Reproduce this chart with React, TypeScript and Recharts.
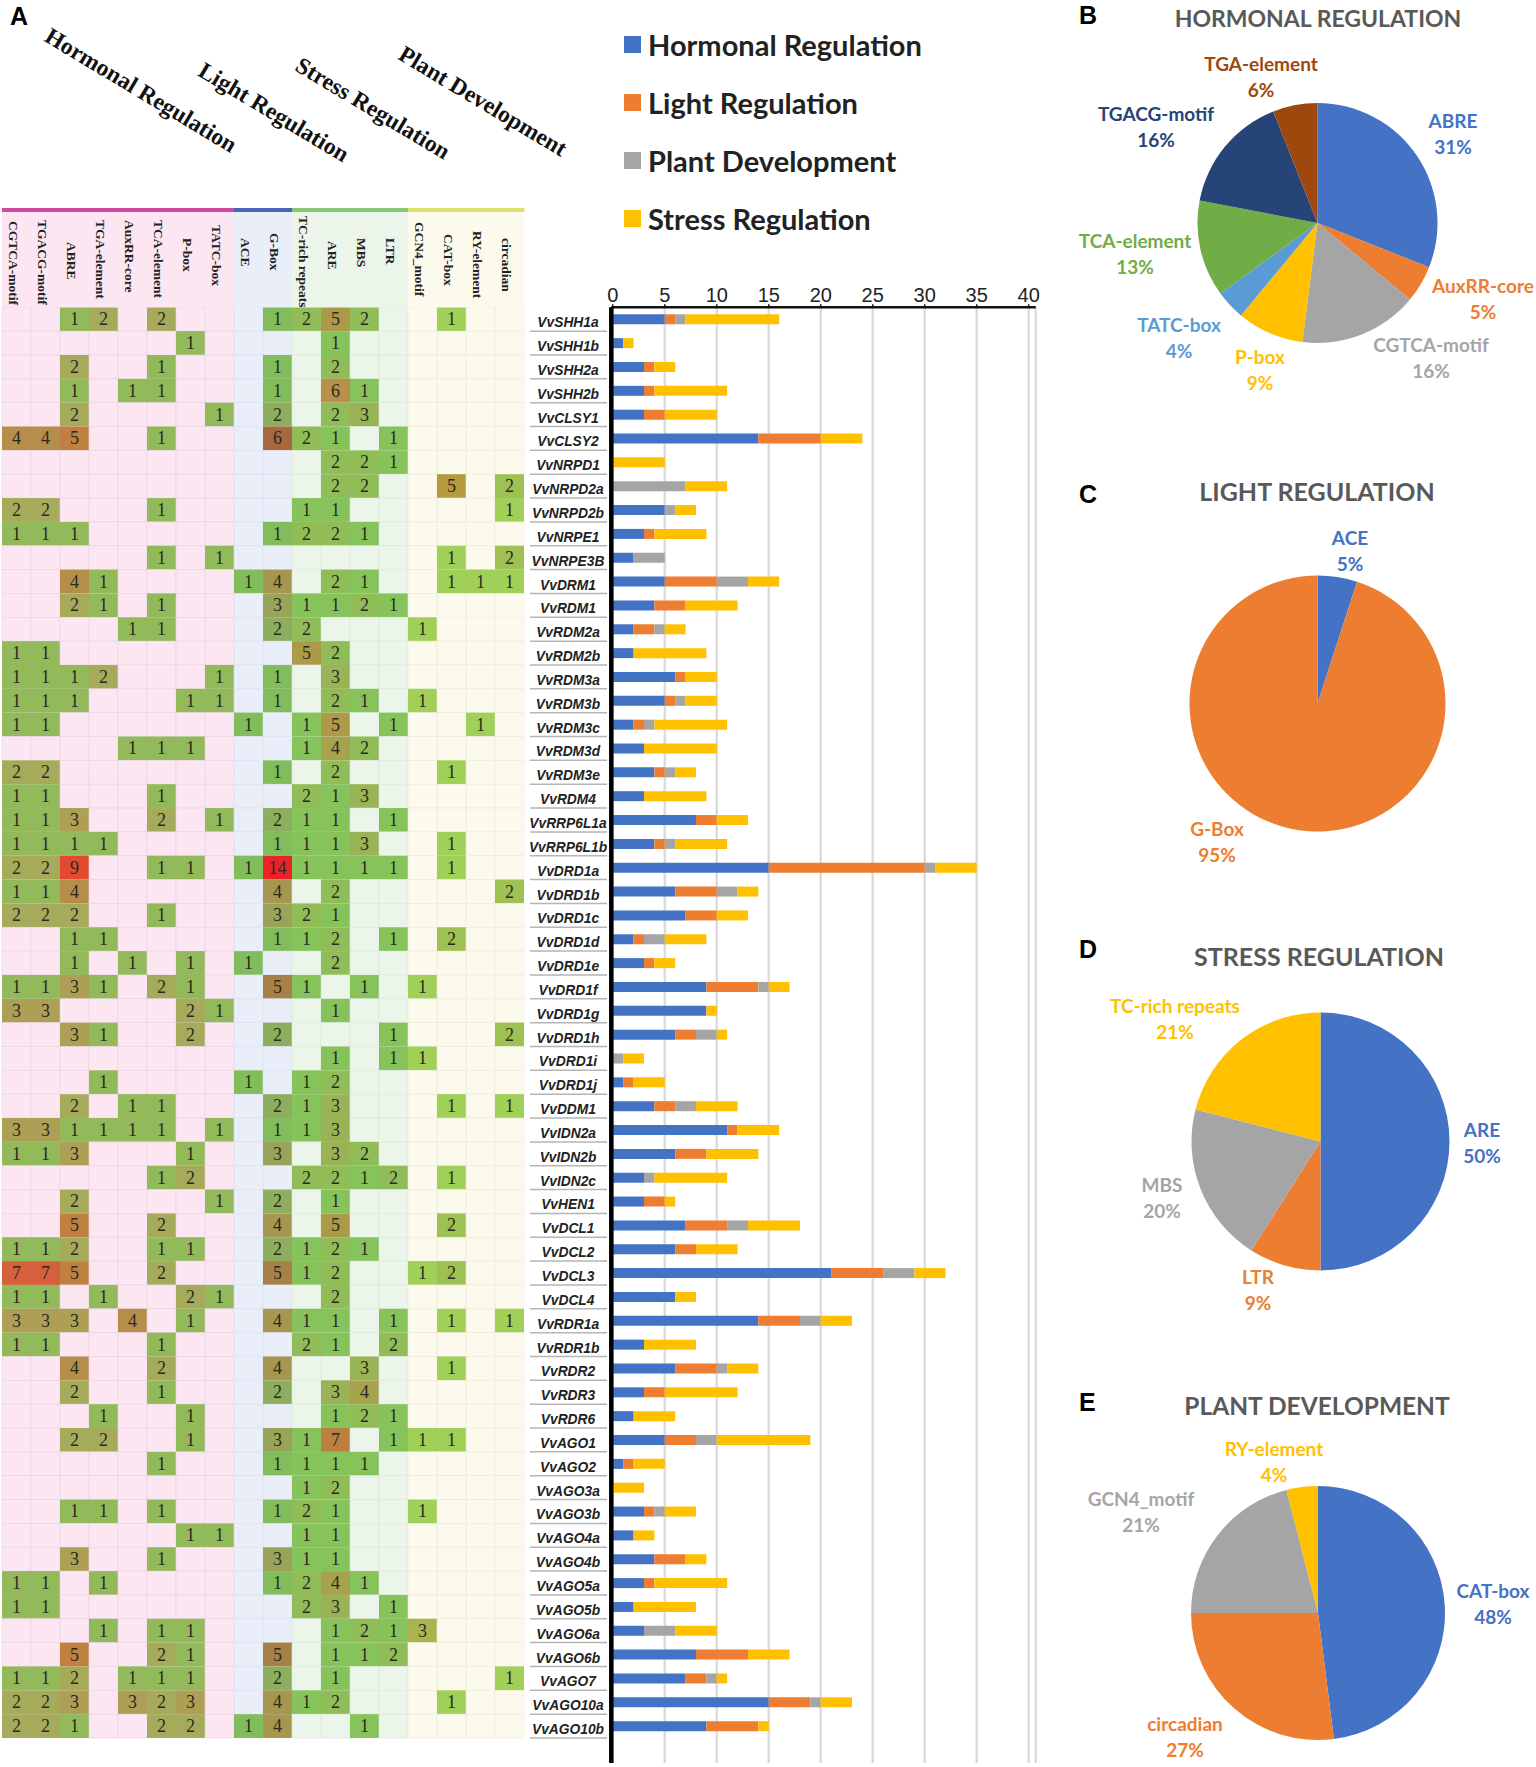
import {
  Bar,
  BarChart,
  CartesianGrid,
  Cell,
  Legend,
  Pie,
  PieChart,
  Scatter,
  ScatterChart,
  XAxis,
  YAxis,
} from 'recharts';

const genes = [
  'VvSHH1a', 'VvSHH1b', 'VvSHH2a', 'VvSHH2b', 'VvCLSY1', 'VvCLSY2', 'VvNRPD1', 'VvNRPD2a', 'VvNRPD2b', 'VvNRPE1',
  'VvNRPE3B', 'VvDRM1', 'VvRDM1', 'VvRDM2a', 'VvRDM2b', 'VvRDM3a', 'VvRDM3b', 'VvRDM3c', 'VvRDM3d', 'VvRDM3e',
  'VvRDM4', 'VvRRP6L1a', 'VvRRP6L1b', 'VvDRD1a', 'VvDRD1b', 'VvDRD1c', 'VvDRD1d', 'VvDRD1e', 'VvDRD1f', 'VvDRD1g',
  'VvDRD1h', 'VvDRD1i', 'VvDRD1j', 'VvDDM1', 'VvIDN2a', 'VvIDN2b', 'VvIDN2c', 'VvHEN1', 'VvDCL1', 'VvDCL2',
  'VvDCL3', 'VvDCL4', 'VvRDR1a', 'VvRDR1b', 'VvRDR2', 'VvRDR3', 'VvRDR6', 'VvAGO1', 'VvAGO2', 'VvAGO3a',
  'VvAGO3b', 'VvAGO4a', 'VvAGO4b', 'VvAGO5a', 'VvAGO5b', 'VvAGO6a', 'VvAGO6b', 'VvAGO7', 'VvAGO10a', 'VvAGO10b',
];

const motifs = [
  'CGTCA-motif', 'TGACG-motif', 'ABRE', 'TGA-element', 'AuxRR-core', 'TCA-element', 'P-box', 'TATC-box',
  'ACE', 'G-Box',
  'TC-rich repeats', 'ARE', 'MBS', 'LTR',
  'GCN4_motif', 'CAT-box', 'RY-element', 'circadian',
];

// one row per gene, one column per motif, 0 = no element
const motifCounts = [
  [0, 0, 1, 2, 0, 2, 0, 0, 0, 1, 2, 5, 2, 0, 0, 1, 0, 0],
  [0, 0, 0, 0, 0, 0, 1, 0, 0, 0, 0, 1, 0, 0, 0, 0, 0, 0],
  [0, 0, 2, 0, 0, 1, 0, 0, 0, 1, 0, 2, 0, 0, 0, 0, 0, 0],
  [0, 0, 1, 0, 1, 1, 0, 0, 0, 1, 0, 6, 1, 0, 0, 0, 0, 0],
  [0, 0, 2, 0, 0, 0, 0, 1, 0, 2, 0, 2, 3, 0, 0, 0, 0, 0],
  [4, 4, 5, 0, 0, 1, 0, 0, 0, 6, 2, 1, 0, 1, 0, 0, 0, 0],
  [0, 0, 0, 0, 0, 0, 0, 0, 0, 0, 0, 2, 2, 1, 0, 0, 0, 0],
  [0, 0, 0, 0, 0, 0, 0, 0, 0, 0, 0, 2, 2, 0, 0, 5, 0, 2],
  [2, 2, 0, 0, 0, 1, 0, 0, 0, 0, 1, 1, 0, 0, 0, 0, 0, 1],
  [1, 1, 1, 0, 0, 0, 0, 0, 0, 1, 2, 2, 1, 0, 0, 0, 0, 0],
  [0, 0, 0, 0, 0, 1, 0, 1, 0, 0, 0, 0, 0, 0, 0, 1, 0, 2],
  [0, 0, 4, 1, 0, 0, 0, 0, 1, 4, 0, 2, 1, 0, 0, 1, 1, 1],
  [0, 0, 2, 1, 0, 1, 0, 0, 0, 3, 1, 1, 2, 1, 0, 0, 0, 0],
  [0, 0, 0, 0, 1, 1, 0, 0, 0, 2, 2, 0, 0, 0, 1, 0, 0, 0],
  [1, 1, 0, 0, 0, 0, 0, 0, 0, 0, 5, 2, 0, 0, 0, 0, 0, 0],
  [1, 1, 1, 2, 0, 0, 0, 1, 0, 1, 0, 3, 0, 0, 0, 0, 0, 0],
  [1, 1, 1, 0, 0, 0, 1, 1, 0, 1, 0, 2, 1, 0, 1, 0, 0, 0],
  [1, 1, 0, 0, 0, 0, 0, 0, 1, 0, 1, 5, 0, 1, 0, 0, 1, 0],
  [0, 0, 0, 0, 1, 1, 1, 0, 0, 0, 1, 4, 2, 0, 0, 0, 0, 0],
  [2, 2, 0, 0, 0, 0, 0, 0, 0, 1, 0, 2, 0, 0, 0, 1, 0, 0],
  [1, 1, 0, 0, 0, 1, 0, 0, 0, 0, 2, 1, 3, 0, 0, 0, 0, 0],
  [1, 1, 3, 0, 0, 2, 0, 1, 0, 2, 1, 1, 0, 1, 0, 0, 0, 0],
  [1, 1, 1, 1, 0, 0, 0, 0, 0, 1, 1, 1, 3, 0, 0, 1, 0, 0],
  [2, 2, 9, 0, 0, 1, 1, 0, 1, 14, 1, 1, 1, 1, 0, 1, 0, 0],
  [1, 1, 4, 0, 0, 0, 0, 0, 0, 4, 0, 2, 0, 0, 0, 0, 0, 2],
  [2, 2, 2, 0, 0, 1, 0, 0, 0, 3, 2, 1, 0, 0, 0, 0, 0, 0],
  [0, 0, 1, 1, 0, 0, 0, 0, 0, 1, 1, 2, 0, 1, 0, 2, 0, 0],
  [0, 0, 1, 0, 1, 0, 1, 0, 1, 0, 0, 2, 0, 0, 0, 0, 0, 0],
  [1, 1, 3, 1, 0, 2, 1, 0, 0, 5, 1, 0, 1, 0, 1, 0, 0, 0],
  [3, 3, 0, 0, 0, 0, 2, 1, 0, 0, 0, 1, 0, 0, 0, 0, 0, 0],
  [0, 0, 3, 1, 0, 0, 2, 0, 0, 2, 0, 0, 0, 1, 0, 0, 0, 2],
  [0, 0, 0, 0, 0, 0, 0, 0, 0, 0, 0, 1, 0, 1, 1, 0, 0, 0],
  [0, 0, 0, 1, 0, 0, 0, 0, 1, 0, 1, 2, 0, 0, 0, 0, 0, 0],
  [0, 0, 2, 0, 1, 1, 0, 0, 0, 2, 1, 3, 0, 0, 0, 1, 0, 1],
  [3, 3, 1, 1, 1, 1, 0, 1, 0, 1, 1, 3, 0, 0, 0, 0, 0, 0],
  [1, 1, 3, 0, 0, 0, 1, 0, 0, 3, 0, 3, 2, 0, 0, 0, 0, 0],
  [0, 0, 0, 0, 0, 1, 2, 0, 0, 0, 2, 2, 1, 2, 0, 1, 0, 0],
  [0, 0, 2, 0, 0, 0, 0, 1, 0, 2, 0, 1, 0, 0, 0, 0, 0, 0],
  [0, 0, 5, 0, 0, 2, 0, 0, 0, 4, 0, 5, 0, 0, 0, 2, 0, 0],
  [1, 1, 2, 0, 0, 1, 1, 0, 0, 2, 1, 2, 1, 0, 0, 0, 0, 0],
  [7, 7, 5, 0, 0, 2, 0, 0, 0, 5, 1, 2, 0, 0, 1, 2, 0, 0],
  [1, 1, 0, 1, 0, 0, 2, 1, 0, 0, 0, 2, 0, 0, 0, 0, 0, 0],
  [3, 3, 3, 0, 4, 0, 1, 0, 0, 4, 1, 1, 0, 1, 0, 1, 0, 1],
  [1, 1, 0, 0, 0, 1, 0, 0, 0, 0, 2, 1, 0, 2, 0, 0, 0, 0],
  [0, 0, 4, 0, 0, 2, 0, 0, 0, 4, 0, 0, 3, 0, 0, 1, 0, 0],
  [0, 0, 2, 0, 0, 1, 0, 0, 0, 2, 0, 3, 4, 0, 0, 0, 0, 0],
  [0, 0, 0, 1, 0, 0, 1, 0, 0, 0, 0, 1, 2, 1, 0, 0, 0, 0],
  [0, 0, 2, 2, 0, 0, 1, 0, 0, 3, 1, 7, 0, 1, 1, 1, 0, 0],
  [0, 0, 0, 0, 0, 1, 0, 0, 0, 1, 1, 1, 1, 0, 0, 0, 0, 0],
  [0, 0, 0, 0, 0, 0, 0, 0, 0, 0, 1, 2, 0, 0, 0, 0, 0, 0],
  [0, 0, 1, 1, 0, 1, 0, 0, 0, 1, 2, 1, 0, 0, 1, 0, 0, 0],
  [0, 0, 0, 0, 0, 0, 1, 1, 0, 0, 1, 1, 0, 0, 0, 0, 0, 0],
  [0, 0, 3, 0, 0, 1, 0, 0, 0, 3, 1, 1, 0, 0, 0, 0, 0, 0],
  [1, 1, 0, 1, 0, 0, 0, 0, 0, 1, 2, 4, 1, 0, 0, 0, 0, 0],
  [1, 1, 0, 0, 0, 0, 0, 0, 0, 0, 2, 3, 0, 1, 0, 0, 0, 0],
  [0, 0, 0, 1, 0, 1, 1, 0, 0, 0, 0, 1, 2, 1, 3, 0, 0, 0],
  [0, 0, 5, 0, 0, 2, 1, 0, 0, 5, 0, 1, 1, 2, 0, 0, 0, 0],
  [1, 1, 2, 0, 1, 1, 1, 0, 0, 2, 0, 1, 0, 0, 0, 0, 0, 1],
  [2, 2, 3, 0, 3, 2, 3, 0, 0, 4, 1, 2, 0, 0, 0, 1, 0, 0],
  [2, 2, 1, 0, 0, 2, 2, 0, 1, 4, 0, 0, 1, 0, 0, 0, 0, 0],
];

const hormonal = [5, 1, 3, 3, 3, 14, 0, 0, 5, 3, 2, 5, 4, 2, 2, 6, 5, 2, 3, 4, 3, 8, 4, 15, 6, 7, 2, 3, 9, 9, 6, 0, 1, 4, 11, 6, 3, 3, 7, 6, 21, 6, 14, 3, 6, 3, 2, 5, 1, 0, 3, 2, 4, 3, 2, 3, 8, 7, 15, 9];
const light = [1, 0, 1, 1, 2, 6, 0, 0, 0, 1, 0, 5, 3, 2, 0, 1, 1, 1, 0, 1, 0, 2, 1, 15, 4, 3, 1, 1, 5, 0, 2, 0, 1, 2, 1, 3, 0, 2, 4, 2, 5, 0, 4, 0, 4, 2, 0, 3, 1, 0, 1, 0, 3, 1, 0, 0, 5, 2, 4, 5];
const plant = [1, 0, 0, 0, 0, 0, 0, 7, 1, 0, 3, 3, 0, 1, 0, 0, 1, 1, 0, 1, 0, 0, 1, 1, 2, 0, 2, 0, 1, 0, 2, 1, 0, 2, 0, 0, 1, 0, 2, 0, 3, 0, 2, 0, 1, 0, 0, 2, 0, 0, 1, 0, 0, 0, 0, 3, 0, 1, 1, 0];
const stress = [9, 1, 2, 7, 5, 4, 5, 4, 2, 5, 0, 3, 5, 2, 7, 3, 3, 7, 7, 2, 6, 3, 5, 4, 2, 3, 4, 2, 2, 1, 1, 2, 3, 4, 4, 5, 7, 1, 5, 4, 3, 2, 3, 5, 3, 7, 4, 9, 3, 3, 3, 2, 2, 7, 6, 4, 4, 1, 3, 1];

const xTicks = [0, 5, 10, 15, 20, 25, 30, 35, 40];

const hormonalNames = ['ABRE', 'AuxRR-core', 'CGTCA-motif', 'P-box', 'TATC-box', 'TCA-element', 'TGACG-motif', 'TGA-element'];
const hormonalShare = [31, 5, 16, 9, 4, 13, 16, 6];
const lightNames = ['ACE', 'G-Box'];
const lightShare = [5, 95];
const stressNames = ['ARE', 'LTR', 'MBS', 'TC-rich repeats'];
const stressShare = [50, 9, 20, 21];
const plantNames = ['CAT-box', 'circadian', 'GCN4_motif', 'RY-element'];
const plantShare = [48, 27, 21, 4];

const pieColors = ['#4472c4', '#ed7d31', '#a5a5a5', '#ffc000', '#5b9bd5', '#70ad47', '#264478', '#9e480e'];

const barData = genes.map((gene, i) => ({
  gene,
  hormonal: hormonal[i],
  light: light[i],
  plant: plant[i],
  stress: stress[i],
}));

const heatData = genes.flatMap((gene, row) =>
  motifs.map((motif, col) => ({ gene, motif, col: col + 0.5, row: row + 0.5, value: motifCounts[row][col] })),
);

const toPie = (names: string[], shares: number[]) => names.map((name, i) => ({ name, value: shares[i] }));

const CELL_W = 29;
const CELL_H = 23.85;
const HEAT_TOP = 307.3;

const SERIF = '"Liberation Serif", serif';
const SANS = '"Liberation Sans", sans-serif';

const groupOf = (col: number) => (col < 8 ? 0 : col < 10 ? 1 : col < 14 ? 2 : 3);

const groupTint = ['#fbe6f1', '#e9eef8', '#ebf5ea', '#fbfaec'];
const groupLine = ['#e8d3e0', '#d9dfee', '#dbe8db', '#ecebd8'];
const groupBand = ['#cf4ba1', '#4a66b8', '#86c873', '#dde36c'];

const heatColors: Record<number, string>[] = [
  { 1: '#92b95a', 2: '#a6ab5b', 3: '#ad9f56', 4: '#b58e4c', 5: '#bf8042', 7: '#d6603a', 9: '#e34a32' },
  { 1: '#82bd5c', 2: '#8dae5e', 3: '#9aa458', 4: '#a5974f', 5: '#a68045', 6: '#a8683f', 14: '#ec2229' },
  { 1: '#86c35a', 2: '#90bd58', 3: '#9ab356', 4: '#a8a24f', 5: '#ad9a48', 6: '#b8904a', 7: '#bb8040' },
  { 1: '#a0d058', 2: '#9fc052', 3: '#abb34f', 5: '#b59a40' },
];

// where each rotated column heading starts
const headerTop: Record<string, number> = {
  'CGTCA-motif': 221, 'TGACG-motif': 220, ABRE: 242, 'TGA-element': 220, 'AuxRR-core': 220, 'TCA-element': 220,
  'P-box': 238, 'TATC-box': 225, ACE: 238, 'G-Box': 233, 'TC-rich repeats': 216, ARE: 241, MBS: 238, LTR: 238,
  GCN4_motif: 222, 'CAT-box': 234, 'RY-element': 231, circadian: 238,
};

// page position of each pie label
const labelSpots: Record<string, [number, number]> = {
  'TGA-element': [1261, 65], 'TGACG-motif': [1156, 115], 'TCA-element': [1135, 242], 'TATC-box': [1179, 326],
  'P-box': [1260, 358], 'CGTCA-motif': [1431, 346], 'AuxRR-core': [1483, 287], ABRE: [1453, 122],
  ACE: [1350, 539], 'G-Box': [1217, 830],
  'TC-rich repeats': [1175, 1007], MBS: [1162, 1186], LTR: [1258, 1278], ARE: [1482, 1131],
  'RY-element': [1274, 1450], GCN4_motif: [1141, 1500], circadian: [1185, 1725], 'CAT-box': [1493, 1592],
};

function HeatCell(props: any) {
  const { cx, cy, payload } = props;
  const group = groupOf(Math.floor(payload.col));
  const x = cx - CELL_W / 2;
  const y = cy - CELL_H / 2;
  if (!payload.value) {
    return <rect x={x} y={y} width={CELL_W} height={CELL_H} fill={groupTint[group]} stroke={groupLine[group]} strokeWidth={0.6} />;
  }
  return (
    <g>
      <rect x={x} y={y} width={CELL_W} height={CELL_H} fill={heatColors[group][payload.value]} />
      <text x={cx} y={cy + 6} textAnchor="middle" fontFamily={SERIF} fontSize={18} fill="#2a2a20">
        {payload.value}
      </text>
    </g>
  );
}

function MotifTick(props: any) {
  const { x, index } = props;
  const name = motifs[index];
  const group = groupOf(index);
  return (
    <g>
      <rect x={x - CELL_W / 2} y={212} width={CELL_W} height={HEAT_TOP - 212} fill={groupTint[group]} />
      <rect x={x - CELL_W / 2} y={208} width={CELL_W + 0.5} height={4} fill={groupBand[group]} />
      <text
        transform={`translate(${x - 3} ${headerTop[name]}) rotate(90)`}
        dominantBaseline="central"
        fontFamily={SERIF}
        fontWeight="bold"
        fontSize={13.5}
        fill="#222"
      >
        {name}
      </text>
    </g>
  );
}

function GeneTick(props: any) {
  const { y, payload } = props;
  return (
    <g>
      <text x={40} y={y + 8} textAnchor="middle" fontFamily={SANS} fontWeight="bold" fontStyle="italic" fontSize={13.8} fill="#222">
        {payload.value}
      </text>
      <line x1={2} x2={79} y1={y + CELL_H / 2} y2={y + CELL_H / 2} stroke="#b5b5b5" strokeWidth={1.5} />
    </g>
  );
}

function LegendRows(props: any) {
  return (
    <div>
      {props.payload.map((item: any) => (
        <div key={item.value} style={{ display: 'flex', alignItems: 'center', height: 58 }}>
          <span style={{ width: 17, height: 17, background: item.color, marginRight: 7 }} />
          <span style={{ fontFamily: 'Lato', fontWeight: 700, fontSize: 29, color: '#222', whiteSpace: 'nowrap' }}>
            {item.value}
          </span>
        </div>
      ))}
    </div>
  );
}

function PieLabel(props: any) {
  const { name, value, fill, chartTop } = props;
  const [x, y] = labelSpots[name];
  return (
    <text textAnchor="middle" fontFamily="Lato" fontWeight={700} fontSize={19} fill={fill}>
      <tspan x={x - 1050} y={y - chartTop + 6}>{name}</tspan>
      <tspan x={x - 1050} y={y - chartTop + 32}>{value}%</tspan>
    </text>
  );
}

function SharePie({ data, top, height, cx, cy, r }: { data: { name: string; value: number }[]; top: number; height: number; cx: number; cy: number; r: number }) {
  return (
    <div style={{ position: 'absolute', left: 1050, top }}>
      <PieChart width={486} height={height} margin={{ top: 0, right: 0, bottom: 0, left: 0 }}>
        <Pie
          data={data}
          dataKey="value"
          nameKey="name"
          cx={cx - 1050}
          cy={cy - top}
          outerRadius={r}
          startAngle={90}
          endAngle={-270}
          stroke="none"
          labelLine={false}
          label={(p: any) => <PieLabel {...p} chartTop={top} />}
          isAnimationActive={false}
        >
          {data.map((d, i) => (
            <Cell key={d.name} fill={pieColors[i]} />
          ))}
        </Pie>
      </PieChart>
    </div>
  );
}

const rotatedTitles = [
  { text: 'Hormonal Regulation', x: 141, y: 90 },
  { text: 'Light Regulation', x: 274, y: 112 },
  { text: 'Stress Regulation', x: 373, y: 108 },
  { text: 'Plant Development', x: 483, y: 101 },
];

const panelTitles = [
  { letter: 'B', text: 'HORMONAL REGULATION', letterY: 24, y: 27, size: 23, x: 1318 },
  { letter: 'C', text: 'LIGHT REGULATION', letterY: 503, y: 501, size: 25, x: 1317 },
  { letter: 'D', text: 'STRESS REGULATION', letterY: 958, y: 966, size: 25, x: 1319 },
  { letter: 'E', text: 'PLANT DEVELOPMENT', letterY: 1411, y: 1415, size: 24.5, x: 1317 },
];

export default function App() {
  return (
    <div style={{ position: 'absolute', left: 0, top: 0, width: 1536, height: 1767, background: '#fff' }}>
      <div style={{ position: 'absolute', left: 0, top: 0 }}>
        <ScatterChart width={528} height={1767} margin={{ top: 0, right: 4, bottom: 29, left: 2 }}>
          <XAxis
            xAxisId={0}
            type="number"
            dataKey="col"
            orientation="top"
            height={HEAT_TOP}
            domain={[0, 18]}
            ticks={motifs.map((_, i) => i + 0.5)}
            interval={0}
            axisLine={false}
            tickLine={false}
            tick={<MotifTick />}
          />
          <YAxis yAxisId={0} type="number" dataKey="row" domain={[0, 60]} reversed hide />
          <Scatter data={heatData} shape={<HeatCell />} isAnimationActive={false} />
        </ScatterChart>
      </div>

      <div style={{ position: 'absolute', left: 528, top: 0 }}>
        <BarChart
          width={520}
          height={1767}
          layout="vertical"
          data={barData}
          barSize={10}
          margin={{ top: 270, right: 12.3, bottom: 4, left: 1.3 }}
        >
          <CartesianGrid horizontal={false} stroke="#dcdcdc" strokeWidth={2.5} />
          <XAxis
            type="number"
            orientation="top"
            height={37.3}
            domain={[0, 40]}
            ticks={xTicks}
            interval={0}
            padding={{ left: 1.5, right: 7 }}
            axisLine={{ stroke: '#111', strokeWidth: 2.5 }}
            tickLine={{ stroke: '#111', strokeWidth: 1.5 }}
            tickSize={3}
            tickMargin={2}
            tick={{ fontFamily: SANS, fontSize: 20, fill: '#222' }}
          />
          <YAxis
            type="category"
            dataKey="gene"
            width={82}
            interval={0}
            padding={{ top: 0, bottom: 25 }}
            axisLine={{ stroke: '#000', strokeWidth: 4.5 }}
            tickLine={false}
            tick={<GeneTick />}
          />
          <Legend
            layout="vertical"
            align="center"
            verticalAlign="middle"
            content={<LegendRows />}
            wrapperStyle={{ left: 96, top: 15, width: 330, height: 232 }}
          />
          <Bar dataKey="hormonal" name="Hormonal Regulation" stackId="a" fill="#4472c4" isAnimationActive={false} />
          <Bar dataKey="light" name="Light Regulation" stackId="a" fill="#ed7d31" isAnimationActive={false} />
          <Bar dataKey="plant" name="Plant Development" stackId="a" fill="#a5a5a5" isAnimationActive={false} />
          <Bar dataKey="stress" name="Stress Regulation" stackId="a" fill="#ffc000" isAnimationActive={false} />
        </BarChart>
      </div>

      <SharePie data={toPie(hormonalNames, hormonalShare)} top={40} height={400} cx={1317.5} cy={223} r={120} />
      <SharePie data={toPie(lightNames, lightShare)} top={520} height={370} cx={1317.5} cy={703.5} r={128} />
      <SharePie data={toPie(stressNames, stressShare)} top={985} height={340} cx={1320.5} cy={1141.5} r={129} />
      <SharePie data={toPie(plantNames, plantShare)} top={1435} height={332} cx={1318} cy={1613} r={127} />

      <svg width={1536} height={1767} style={{ position: 'absolute', left: 0, top: 0, pointerEvents: 'none' }}>
        <text x={10} y={25} fontFamily={SANS} fontWeight="bold" fontSize={25} fill="#000">A</text>
        {rotatedTitles.map((t) => (
          <text
            key={t.text}
            transform={`translate(${t.x} ${t.y}) rotate(31)`}
            textAnchor="middle"
            dominantBaseline="central"
            fontFamily={SERIF}
            fontWeight="bold"
            fontSize={23.5}
            fill="#111"
          >
            {t.text}
          </text>
        ))}
        {panelTitles.map((t) => (
          <g key={t.letter}>
            <text x={1079} y={t.letterY} fontFamily={SANS} fontWeight="bold" fontSize={25} fill="#000">{t.letter}</text>
            <text x={t.x} y={t.y} textAnchor="middle" fontFamily="Lato" fontWeight={700} fontSize={t.size} fill="#595959">{t.text}</text>
          </g>
        ))}
      </svg>
    </div>
  );
}
